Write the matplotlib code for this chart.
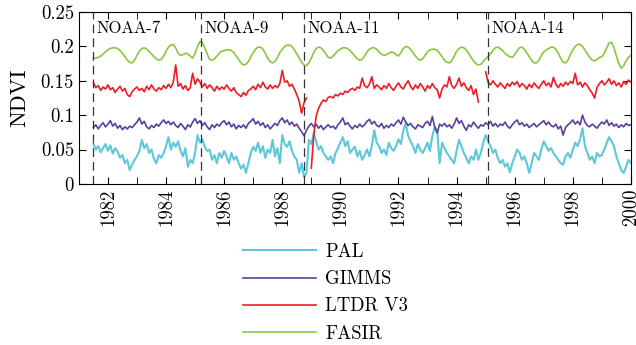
import matplotlib
matplotlib.use('Agg')
import matplotlib.pyplot as plt
import numpy as np

nan = np.nan

# monthly samples from Jul 1981 to Jan 2000
years = 1981.5 + np.arange(223) / 12.0

pal = [
    0.058, 0.050, 0.055, 0.046, 0.052, 0.058,
    0.048, 0.056, 0.044, 0.052, 0.047, 0.038, 0.042, 0.030, 0.035, 0.020, 0.028, 0.035,
    0.040, 0.048, 0.064, 0.052, 0.058, 0.045, 0.050, 0.036, 0.030, 0.042, 0.038, 0.045,
    0.055, 0.068, 0.050, 0.060, 0.054, 0.062, 0.048, 0.040, 0.052, 0.025, 0.035, 0.030,
    0.045, 0.071, 0.060, 0.065, 0.054, 0.048, 0.050, 0.035, 0.042, 0.030, 0.045, 0.038,
    0.048, 0.040, 0.030, 0.045, 0.035, 0.040, 0.030, 0.022, 0.028, 0.016, 0.030, 0.045,
    0.054, 0.048, 0.060, 0.045, 0.055, 0.038, 0.050, 0.045, 0.064, 0.040, 0.052, 0.030,
    0.071, 0.058, 0.054, 0.062, 0.048, 0.040, 0.035, 0.016, 0.030, 0.010, 0.016, 0.064,
    0.058, 0.074, 0.062, 0.050, 0.055, 0.045, 0.040, 0.035, 0.040, 0.030, 0.045, 0.052,
    0.060, 0.068, 0.055, 0.062, 0.045, 0.050, 0.054, 0.040, 0.048, 0.035, 0.042, 0.050,
    0.040, 0.056, 0.078, 0.060, 0.055, 0.045, 0.050, 0.042, 0.060, 0.052, 0.048, 0.055,
    0.065, 0.058, 0.078, 0.088, 0.070, 0.062, 0.055, 0.045, 0.058, 0.050, 0.045, 0.052,
    0.060, 0.048, 0.070, 0.083, 0.078, 0.030, 0.060, 0.052, 0.045, 0.040, 0.035, 0.030,
    0.048, 0.064, 0.055, 0.045, 0.038, 0.030, 0.040, 0.035, 0.050, 0.035, 0.045, 0.060,
    0.071, 0.062, 0.055, 0.045, 0.050, 0.038, 0.030, 0.035, 0.025, 0.030, 0.017, 0.030,
    0.040, 0.050, 0.045, 0.035, 0.040, 0.030, 0.016, 0.030, 0.045, 0.040, 0.035, 0.050,
    0.062, 0.055, 0.048, 0.052, 0.045, 0.040, 0.035, 0.030, 0.028, 0.040, 0.045, 0.038,
    0.050, 0.060, 0.055, 0.065, 0.081, 0.055, 0.045, 0.035, 0.040, 0.030, 0.045, 0.040,
    0.042, 0.050, 0.060, 0.068, 0.062, 0.055, 0.040, 0.030, 0.020, 0.016, 0.025, 0.035,
    0.030,
]

gimms = [
    0.082, 0.086, 0.080, 0.085, 0.089, 0.083,
    0.087, 0.092, 0.084, 0.088, 0.081, 0.085, 0.079, 0.083, 0.080, 0.084, 0.082, 0.086,
    0.090, 0.096, 0.087, 0.091, 0.083, 0.080, 0.085, 0.082, 0.087, 0.084, 0.089, 0.093,
    0.088, 0.091, 0.086, 0.090, 0.085, 0.082, 0.088, 0.084, 0.079, 0.086, 0.083, 0.090,
    0.095, 0.088, 0.092, 0.085, 0.089, 0.083, 0.079, 0.086, 0.082, 0.087, 0.084, 0.089,
    0.092, 0.086, 0.090, 0.083, 0.087, 0.080, 0.085, 0.082, 0.086, 0.081, 0.088, 0.091,
    0.095, 0.087, 0.091, 0.085, 0.089, 0.082, 0.086, 0.080, 0.084, 0.088, 0.085, 0.092,
    0.096, 0.089, 0.093, 0.086, 0.090, 0.084, 0.087, 0.081, 0.076, 0.070, 0.078, 0.084,
    0.088, 0.083, 0.087, 0.081, 0.085, 0.079, 0.083, 0.086, 0.082, 0.084, 0.080, 0.086,
    0.090, 0.096, 0.086, 0.089, 0.084, 0.080, 0.085, 0.082, 0.087, 0.083, 0.086, 0.091,
    0.094, 0.087, 0.091, 0.085, 0.083, 0.088, 0.081, 0.085, 0.082, 0.087, 0.084, 0.089,
    0.093, 0.087, 0.097, 0.090, 0.085, 0.088, 0.083, 0.080, 0.086, 0.084, 0.082, 0.088,
    0.091, 0.085, 0.098, 0.082, 0.074, 0.087, 0.084, 0.088, 0.083, 0.086, 0.081, 0.087,
    0.096, 0.088, 0.092, 0.084, 0.078, 0.086, 0.083, 0.090, 0.085, 0.081, 0.086, 0.084,
    0.089, 0.086, 0.091, 0.084, 0.088, 0.083, 0.087, 0.085, 0.090, 0.084, 0.081, 0.086,
    0.090, 0.093, 0.086, 0.089, 0.084, 0.087, 0.082, 0.085, 0.088, 0.083, 0.086, 0.089,
    0.092, 0.086, 0.090, 0.085, 0.083, 0.087, 0.080, 0.084, 0.071, 0.082, 0.086, 0.089,
    0.093, 0.087, 0.091, 0.086, 0.100, 0.090, 0.085, 0.083, 0.087, 0.084, 0.081, 0.086,
    0.090, 0.087, 0.093, 0.085, 0.089, 0.084, 0.087, 0.082, 0.086, 0.083, 0.088, 0.085,
    0.086,
]

ltdr = [
    0.147, 0.140, 0.143, 0.136, 0.141, 0.138,
    0.144, 0.137, 0.140, 0.133, 0.138, 0.142, 0.135, 0.139, 0.130, 0.127, 0.134, 0.138,
    0.141, 0.136, 0.139, 0.134, 0.142, 0.137, 0.144, 0.138, 0.135, 0.140, 0.137, 0.143,
    0.139, 0.145, 0.140, 0.148, 0.173, 0.142, 0.146, 0.138, 0.143, 0.136, 0.140, 0.161,
    0.145, 0.153, 0.148, 0.141, 0.146, 0.139, 0.144, 0.140, 0.135, 0.142, 0.137, 0.141,
    0.138, 0.144, 0.139, 0.135, 0.140, 0.133, 0.130, 0.127, 0.133, 0.129, 0.136, 0.138,
    0.142, 0.137, 0.145, 0.140, 0.148, 0.141, 0.138, 0.144, 0.139, 0.143, 0.140, 0.146,
    0.165, 0.148, 0.150, 0.142, 0.145, 0.138, 0.130, 0.120, 0.103, 0.118, 0.125, nan,
    0.023, 0.070, 0.098, 0.110, 0.117, 0.122, 0.120, 0.126, 0.127, 0.125, 0.130, 0.128,
    0.132, 0.130, 0.135, 0.133, 0.137, 0.139, 0.136, 0.141, 0.139, 0.154, 0.143, 0.140,
    0.145, 0.156, 0.139, 0.144, 0.141, 0.137, 0.143, 0.139, 0.146, 0.140, 0.136, 0.142,
    0.147, 0.141, 0.138, 0.145, 0.150, 0.142, 0.137, 0.144, 0.139, 0.146, 0.141, 0.135,
    0.143, 0.139, 0.146, 0.140, 0.137, 0.125, 0.138, 0.144, 0.141, 0.156, 0.143, 0.139,
    0.145, 0.154, 0.142, 0.147, 0.140, 0.136, 0.143, 0.130, 0.138, 0.119, nan, nan,
    0.163, 0.148, 0.144, 0.150, 0.145, 0.141, 0.147, 0.143, 0.139, 0.146, 0.142, 0.148,
    0.144, 0.149, 0.141, 0.146, 0.143, 0.138, 0.145, 0.140, 0.147, 0.142, 0.139, 0.145,
    0.150, 0.143, 0.147, 0.141, 0.155, 0.145, 0.140, 0.146, 0.142, 0.148, 0.144, 0.149,
    0.146, 0.161, 0.144, 0.148, 0.141, 0.147, 0.143, 0.137, 0.132, 0.125, 0.140, 0.146,
    0.150, 0.144, 0.148, 0.153, 0.145, 0.150, 0.143, 0.147, 0.141, 0.149, 0.145, 0.151,
    0.148,
]

fasir = [
    0.183, 0.183, 0.184, 0.186, 0.189, 0.192,
    0.195, 0.197, 0.198, 0.198, 0.197, 0.194, 0.190, 0.185, 0.180, 0.177, 0.176, 0.180,
    0.187, 0.193, 0.197, 0.198, 0.196, 0.193, 0.189, 0.185, 0.182, 0.180, 0.181, 0.186,
    0.193, 0.199, 0.202, 0.203, 0.198, 0.190, 0.187, 0.188, 0.190, 0.189, 0.186, 0.183,
    0.190, 0.200, 0.207, 0.206, 0.198, 0.189, 0.181, 0.180, 0.182, 0.186, 0.190, 0.193,
    0.194, 0.195, 0.195, 0.194, 0.191, 0.186, 0.181, 0.176, 0.173, 0.174, 0.178, 0.185,
    0.191, 0.196, 0.199, 0.199, 0.196, 0.190, 0.183, 0.178, 0.176, 0.178, 0.184, 0.191,
    0.196, 0.200, 0.202, 0.202, 0.200, 0.195, 0.189, 0.183, 0.177, 0.173, 0.172, 0.176,
    0.183, 0.191, 0.197, 0.199, 0.198, 0.194, 0.189, 0.184, 0.183, 0.186, 0.190, 0.194,
    0.196, 0.198, 0.198, 0.197, 0.194, 0.190, 0.186, 0.182, 0.180, 0.181, 0.186, 0.192,
    0.196, 0.198, 0.198, 0.196, 0.192, 0.189, 0.187, 0.188, 0.190, 0.192, 0.191, 0.188,
    0.186, 0.191, 0.197, 0.200, 0.199, 0.196, 0.191, 0.186, 0.182, 0.180, 0.182, 0.187,
    0.192, 0.195, 0.196, 0.196, 0.194, 0.190, 0.185, 0.180, 0.177, 0.176, 0.179, 0.186,
    0.193, 0.197, 0.199, 0.198, 0.195, 0.190, 0.184, 0.179, 0.175, 0.173, 0.174, 0.178,
    0.182, 0.185, 0.189, 0.194, 0.198, 0.199, 0.197, 0.194, 0.190, 0.187, 0.185, 0.184,
    0.188, 0.194, 0.198, 0.199, 0.196, 0.191, 0.185, 0.180, 0.176, 0.176, 0.180, 0.187,
    0.192, 0.195, 0.197, 0.199, 0.199, 0.196, 0.190, 0.183, 0.177, 0.176, 0.180, 0.188,
    0.195, 0.200, 0.203, 0.203, 0.200, 0.195, 0.189, 0.184, 0.180, 0.179, 0.181, 0.184,
    0.185, 0.190, 0.198, 0.205, 0.206, 0.198, 0.186, 0.175, 0.168, 0.172, 0.179, 0.184,
    0.187,
]

# satellite changes
sat_names = ['NOAA-7', 'NOAA-9', 'NOAA-11', 'NOAA-14']
sat_start = [1981.48, 1985.19, 1988.75, 1995.08]

plt.rcParams['font.family'] = 'cmr10'
plt.rcParams['mathtext.fontset'] = 'cm'
plt.rcParams['axes.formatter.use_mathtext'] = True

fig = plt.figure(figsize=(6.36, 3.45), dpi=100)
ax = fig.add_axes([0.124, 0.467, 0.868, 0.498])

ax.plot(years, pal, color='#5ec8da', lw=1.5, label='PAL')
ax.plot(years, gimms, color='#5b3f9f', lw=1.2, label='GIMMS')
ax.plot(years, ltdr, color='#ee1c25', lw=1.2, label='LTDR V3')
ax.plot(years, fasir, color='#8cc63f', lw=1.2, label='FASIR')

for name, x0 in zip(sat_names, sat_start):
    ax.axvline(x0, color='#333333', lw=0.9, ls=(0, (7, 4)))
    ax.text(x0 + 0.12, 0.226, name, fontsize=12, va='center', ha='left')

ax.set_xlim(1981, 2000)
ax.set_ylim(0, 0.25)
ax.set_xticks(np.arange(1982, 2001, 2))
ax.set_xticks(np.arange(1981, 2001, 1), minor=True)
ax.set_xticklabels([str(y) for y in range(1982, 2001, 2)], rotation=90)
ax.set_yticks(np.arange(0, 0.26, 0.05))
ax.set_yticklabels(['0', '0.05', '0.1', '0.15', '0.2', '0.25'])
ax.tick_params(which='both', direction='in', top=True, right=True, labelsize=13.5)
ax.tick_params(which='major', length=5)
ax.tick_params(which='minor', length=5)
ax.set_ylabel('NDVI', fontsize=16, labelpad=8)

fig.legend(loc='upper left', bbox_to_anchor=(0.355, 0.345), frameon=False,
           fontsize=13.5, handlelength=3.9, handletextpad=0.5, labelspacing=0.5)

fig.savefig('out.png', dpi=100)
